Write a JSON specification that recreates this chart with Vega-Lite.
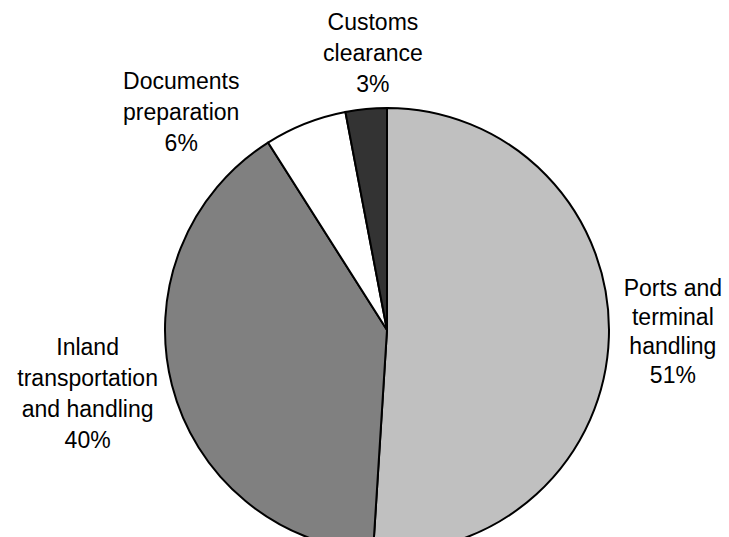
{
  "$schema": "https://vega.github.io/schema/vega-lite/v6.json",
  "width": 684,
  "height": 414,
  "autosize": {"type": "none"},
  "padding": {"left": 45, "top": 123, "right": 0, "bottom": 0},
  "background": "white",
  "view": {"stroke": null},
  "data": {
    "values": [
      {"category": "Ports and terminal handling", "order": 1, "value": 51, "label": ["Ports and", "terminal", "handling", "51%"]},
      {"category": "Inland transportation and handling", "order": 2, "value": 40, "label": ["Inland", "transportation", "and handling", "40%"]},
      {"category": "Documents preparation", "order": 3, "value": 6, "label": ["Documents", "preparation", "6%"]},
      {"category": "Customs clearance", "order": 4, "value": 3, "label": ["Customs", "clearance", "3%"]}
    ]
  },
  "encoding": {
    "theta": {"field": "value", "type": "quantitative", "stack": true},
    "order": {"field": "order", "type": "quantitative"}
  },
  "layer": [
    {
      "mark": {"type": "arc", "outerRadius": 222, "stroke": "black", "strokeWidth": 2},
      "encoding": {
        "color": {
          "field": "category",
          "type": "nominal",
          "legend": null,
          "scale": {
            "domain": ["Ports and terminal handling", "Inland transportation and handling", "Documents preparation", "Customs clearance"],
            "range": ["#c0c0c0", "#808080", "#ffffff", "#333333"]
          }
        }
      }
    },
    {
      "mark": {"type": "text", "radius": 286, "dy": -50, "font": "Liberation Sans", "fontSize": 23, "lineHeight": 29, "align": "center", "baseline": "middle", "color": "black"},
      "encoding": {"text": {"condition": {"test": "datum.order == 1", "field": "label"}, "value": ""}}
    },
    {
      "mark": {"type": "text", "radius": 306, "dx": -3, "dy": -58, "font": "Liberation Sans", "fontSize": 23, "lineHeight": 31, "align": "center", "baseline": "middle", "color": "black"},
      "encoding": {"text": {"condition": {"test": "datum.order == 2", "field": "label"}, "value": ""}}
    },
    {
      "mark": {"type": "text", "radius": 233, "dx": -120, "dy": -31, "font": "Liberation Sans", "fontSize": 23, "lineHeight": 31, "align": "center", "baseline": "middle", "color": "black"},
      "encoding": {"text": {"condition": {"test": "datum.order == 3", "field": "label"}, "value": ""}}
    },
    {
      "mark": {"type": "text", "radius": 277, "dx": 12, "dy": -31, "font": "Liberation Sans", "fontSize": 23, "lineHeight": 31, "align": "center", "baseline": "middle", "color": "black"},
      "encoding": {"text": {"condition": {"test": "datum.order == 4", "field": "label"}, "value": ""}}
    }
  ]
}
